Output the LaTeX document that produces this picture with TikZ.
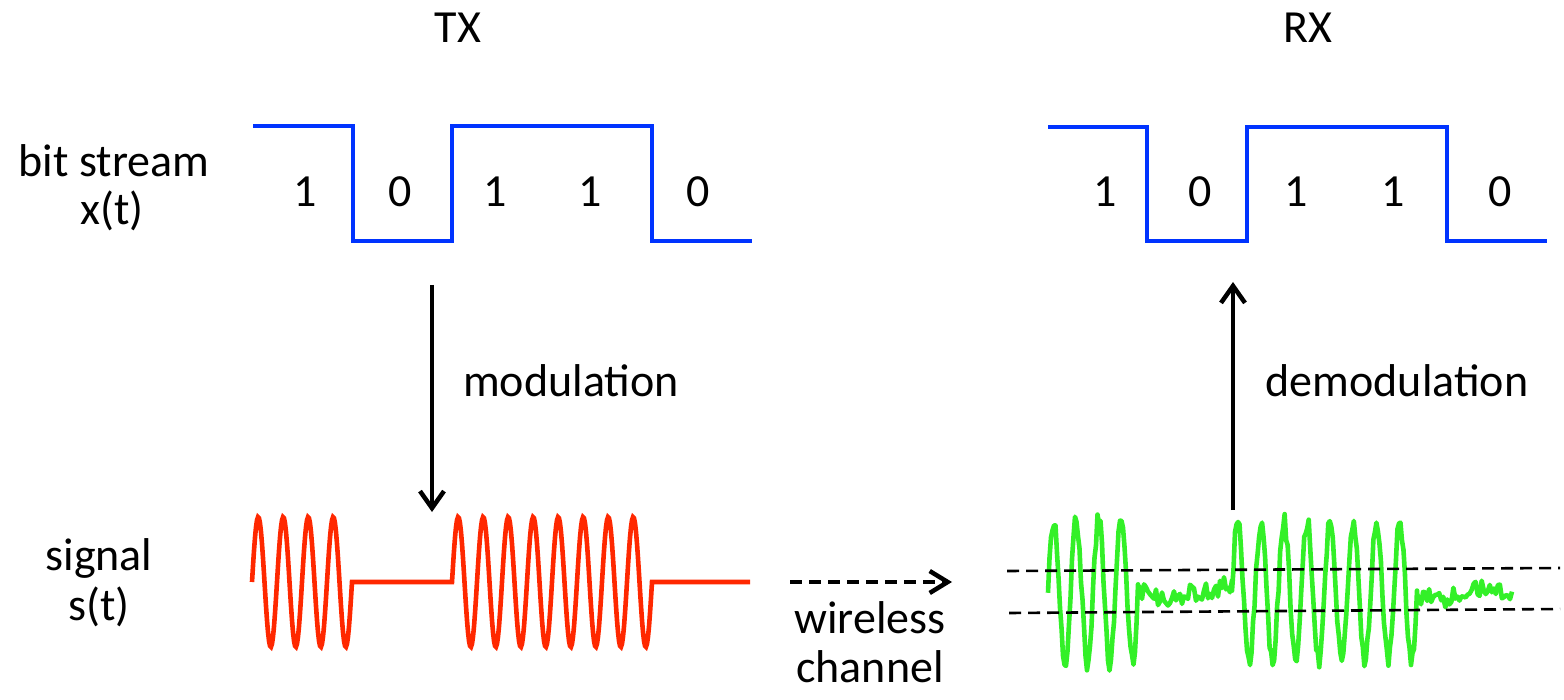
\documentclass[tikz,border=0pt]{standalone}
\usepackage{fontspec}
\setmainfont{Carlito}
\usetikzlibrary{arrows.meta}
\definecolor{bitblue}{RGB}{0,51,255}
\definecolor{sigred}{RGB}{255,40,0}
\definecolor{siggreen}{RGB}{51,240,40}
\begin{document}
\begin{tikzpicture}[x=1pt,y=-1pt,
  lbl/.style={font=\fontsize{46}{55}\selectfont, inner sep=0pt, anchor=base},
  bitline/.style={bitblue, line width=4.5pt},
  redsig/.style={sigred, line width=4.6pt, line join=miter},
  greensig/.style={siggreen, line width=4.6pt, line join=round},
  procarrow/.style={black, line width=4.5pt, -{Straight Barb[length=17pt,width=24pt,line width=4.5pt]}},
  chanarrow/.style={black, line width=4.5pt, dash pattern=on 12pt off 7pt, -{Straight Barb[length=18pt,width=22pt,line width=4.5pt]}},
  thresh/.style={black, line width=2.6pt, dash pattern=on 12pt off 7pt}]
\useasboundingbox (0,0) rectangle (1564,700);

% titles
\node[lbl] (tx) at (458,43) {TX};
\node[lbl] (rx) at (1308,43) {RX};

% left labels
\node[lbl] (bs) at (114,177) {bit stream};
\node[lbl] (xt) at (112,225) {x(t)};
\node[lbl] (sg) at (99,570) {signal};
\node[lbl] (st) at (99,620) {s(t)};

% TX bit stream
\draw[bitline] (253,126) -- (353,126) -- (353,241) -- (452,241) -- (452,126) -- (652,126) -- (652,241) -- (752,241);
\node[lbl] (b1) at (305,207) {1};
\node[lbl] (b2) at (400,207) {0};
\node[lbl] (b3) at (495,207) {1};
\node[lbl] (b4) at (590,207) {1};
\node[lbl] (b5) at (698,207) {0};

% RX bit stream
\draw[bitline] (1048,127) -- (1147,127) -- (1147,241) -- (1247,241) -- (1247,127) -- (1447,127) -- (1447,241) -- (1547,241);
\node[lbl] (r1) at (1105,207) {1};
\node[lbl] (r2) at (1200,207) {0};
\node[lbl] (r3) at (1296,207) {1};
\node[lbl] (r4) at (1393,207) {1};
\node[lbl] (r5) at (1500,207) {0};

% modulation arrow
\coordinate (modtop) at (432,285);
\coordinate (modbot) at (432,512);
\draw[procarrow] (modtop) -- (modbot);
\node[lbl] (mod) at (571,397) {modulation};

% demodulation arrow
\coordinate (demtop) at (1233,282);
\coordinate (dembot) at (1233,510);
\draw[procarrow] (dembot) -- (demtop);
\node[lbl] (dem) at (1397,397) {demodulation};

% red signal
\draw[redsig]
  plot[domain=252:352, samples=101] (\x, {582-65*sin(14.4*(\x-252))})
  -- (452,582)
  -- plot[domain=452:652, samples=201] (\x, {582-65*sin(14.4*(\x-452))})
  -- (750,582);

% channel arrow
\coordinate (chs) at (790,582);
\coordinate (che) at (952,582);
\draw[chanarrow] (chs) -- (che);
\node[lbl] (wl) at (870,633) {wireless};
\node[lbl] (ch) at (870,682) {channel};

% green received signal
\pgfmathsetseed{7}
\draw[greensig]
  plot[domain=1048:1138, samples=61] (\x, {591-72*sin(16*(\x-1048))+8*rand})
  -- plot[domain=1138:1232, samples=48] (\x, {592+5*sin(3*(\x-1138))+10*rand})
  -- plot[domain=1232:1417, samples=124] (\x, {591-70*sin(15.5676*(\x-1232))+8*rand})
  -- plot[domain=1417:1512, samples=48] (\x, {594+5*sin(4*(\x-1417))+10*rand});

% thresholds
\coordinate (t1a) at (1007,571);
\coordinate (t1b) at (1560,568);
\coordinate (t2a) at (1009,613);
\coordinate (t2b) at (1560,609);
\draw[thresh] (t1a) -- (t1b);
\draw[thresh] (t2a) -- (t2b);
\end{tikzpicture}
\end{document}
